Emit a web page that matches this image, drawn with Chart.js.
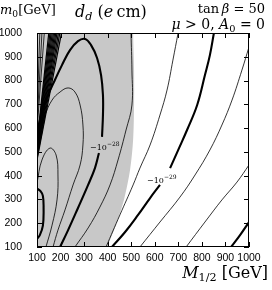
<!DOCTYPE html>
<html>
<head>
<meta charset="utf-8">
<script src="https://cdn.jsdelivr.net/npm/chart.js@4.4.0/dist/chart.umd.min.js"></script>
<style>
html, body { margin: 0; padding: 0; background: #fff; }
#wrap { position: relative; width: 272px; height: 290px; }
.t { position: absolute; font-family: "DejaVu Serif", serif; color: #000; white-space: nowrap; line-height: 1; }
.t sub { font-size: 70%; vertical-align: -0.3em; line-height: 0; }
</style>
</head>
<body>
<div id="wrap">
<canvas id="chart" width="272" height="290"></canvas>
<div class="t" style="left:0px;top:3px;font-size:13px;"><i>m</i><sub>0</sub>[GeV]</div>
<div class="t" style="left:75px;top:4px;font-size:16px;"><i>d</i><sub><i>d</i></sub> (<i>e</i>&#8201;cm)</div>
<div class="t" style="right:7px;top:2px;font-size:13px;">tan&#8201;<i>β</i> = 50</div>
<div class="t" style="right:7px;top:17px;font-size:14px;"><i>μ</i> &gt; 0, <i>A</i><sub>0</sub> = 0</div>
<div class="t" style="right:4px;top:265px;font-size:16px;"><i>M</i><sub>1/2</sub> [GeV]</div>
</div>
<script>
// axis range and tick labels (GeV)
var tickValues = [100, 200, 300, 400, 500, 600, 700, 800, 900, 1000];

// contours: [M_1/2, m_0]
var grayEdge = [[508, 1000], [512, 844], [512, 697], [508, 550], [495, 424], [469, 298], [435, 192], [401, 100]];

var tinyLoop = [[100, 345], [115, 335], [125, 315], [128, 264], [125, 190], [112, 150], [100, 135]];
var arch1 = [[100, 369], [121, 466], [155, 516], [181, 487], [189, 403], [185, 298], [164, 192], [138, 100]];
var ellipse2 = [[113, 592], [134, 655], [164, 718], [198, 752], [232, 769], [261, 752], [283, 697], [295, 613],
    [295, 529], [283, 445], [253, 361], [219, 256], [189, 171], [168, 100]];
var thick28Low = [[198, 100], [232, 171], [274, 264], [317, 361], [346, 432], [363, 495]];
var thick28Up = [[376, 563], [380, 655], [380, 739], [372, 823], [355, 895], [329, 950], [304, 975], [274, 966],
    [240, 928], [206, 865], [172, 794], [142, 727], [121, 668], [104, 600]];
var thin3 = [[499, 1000], [503, 844], [503, 697], [478, 592], [444, 466], [410, 361], [367, 268], [317, 180], [261, 100]];
var thin5 = [[699, 1000], [677, 886], [652, 760], [622, 655], [580, 529], [537, 432], [508, 361], [452, 235], [393, 100]];
var thick29Low = [[418, 100], [474, 163], [529, 235], [580, 306], [622, 361]];
var thick29Up = [[665, 432], [703, 516], [737, 592], [780, 697], [813, 823], [834, 907], [851, 1000]];
var thin6 = [[537, 100], [622, 205], [707, 310], [771, 403], [834, 508], [885, 613], [928, 718], [970, 844], [1000, 941]];
var thin7 = [[733, 100], [813, 205], [885, 298], [949, 373], [1000, 445]];
var thick8 = [[924, 100], [962, 150], [1000, 205]];

// the crowded lines near the sign change: m_0 where they leave the left axis, M_1/2 where they hit the top
var bundleStart = [650, 615, 590, 540, 532, 524, 516, 508, 500, 493, 486, 479, 472, 466];
var bundleTop = [112, 121, 131, 150, 155, 160, 165, 170, 175, 180, 185, 191, 197, 204];

// contour labels: [M_1/2, m_0, exponent]
var contourLabels = [[325, 506, "\u221228"], [567, 369, "\u221229"]];

function pts(arr) {
    return arr.map((a) => ({ x: a[0], y: a[1] }));
}

function contour(arr, thick) {
    return {
        data: pts(arr),
        showLine: true,
        borderColor: "#000",
        borderWidth: thick ? 2.1 : 0.8,
        tension: 0.4,
        pointRadius: 0,
        fill: false,
    };
}

var datasets = [];
[tinyLoop, thick28Low, thick28Up, thick29Low, thick29Up, thick8].forEach((c) => datasets.push(contour(c, true)));
[arch1, ellipse2, thin3, thin5, thin6, thin7].forEach((c) => datasets.push(contour(c, false)));
bundleStart.forEach((s, i) => {
    var d = contour([[100, s], [bundleTop[i], 1000]], false);
    d.tension = 0;
    d.borderWidth = i > 2 ? 1.2 : 0.8;
    datasets.push(d);
});

// shaded region, closed outside the frame so the clip does the edges
var grayPoly = [[508, 1100]].concat(grayEdge, [[390, 0], [0, 0], [0, 1100]]);
datasets.push({
    data: pts(grayPoly),
    showLine: true,
    borderWidth: 0,
    borderColor: "rgba(0,0,0,0)",
    backgroundColor: "#c8c8c8",
    fill: "shape",
    tension: 0.3,
    pointRadius: 0,
    order: 10,
});

var framePlugin = {
    id: "frame",
    afterDatasetsDraw(chart) {
        var ctx = chart.ctx;
        var a = chart.chartArea;
        var x = chart.scales.x;
        var y = chart.scales.y;
        ctx.save();

        // contour labels
        contourLabels.forEach((l) => {
            var px = x.getPixelForValue(l[0]);
            var py = y.getPixelForValue(l[1]);
            ctx.fillStyle = "#000";
            ctx.font = "8px 'DejaVu Serif'";
            ctx.textBaseline = "alphabetic";
            ctx.fillText("\u221210", px, py);
            var w = ctx.measureText("\u221210").width;
            ctx.font = "6px 'DejaVu Serif'";
            ctx.fillText(l[2], px + w, py - 4);
        });

        ctx.strokeStyle = "#000";
        ctx.lineWidth = 1;
        ctx.strokeRect(a.left + 0.5, a.top + 0.5, a.right - a.left - 1, a.bottom - a.top - 1);
        ctx.beginPath();
        tickValues.forEach((v) => {
            var px = Math.round(x.getPixelForValue(v)) + 0.5;
            ctx.moveTo(px, a.bottom);
            ctx.lineTo(px, a.bottom - 5);
            ctx.moveTo(px, a.top);
            ctx.lineTo(px, a.top + 5);
            var py = Math.round(y.getPixelForValue(v)) + 0.5;
            ctx.moveTo(a.left, py);
            ctx.lineTo(a.left + 5, py);
            ctx.moveTo(a.right, py);
            ctx.lineTo(a.right - 5, py);
        });
        ctx.stroke();
        ctx.restore();
    },
};

var tickFont = { family: "'Liberation Sans'", size: 10.5 };

new Chart(document.getElementById("chart").getContext("2d"), {
    type: "scatter",
    data: { datasets: datasets },
    options: {
        responsive: false,
        animation: false,
        layout: { padding: { top: 33, right: 23, bottom: 23, left: 0 } },
        plugins: { legend: { display: false }, tooltip: { enabled: false } },
        scales: {
            x: {
                type: "linear",
                min: 100,
                max: 1000,
                afterBuildTicks: (s) => { s.ticks = tickValues.map((v) => ({ value: v })); },
                afterFit: (s) => { s.height = 20; },
                grid: { display: false },
                border: { display: false },
                ticks: { font: tickFont, color: "#000", padding: -3, autoSkip: false, maxRotation: 0, callback: (v) => String(v) },
            },
            y: {
                type: "linear",
                min: 100,
                max: 1000,
                afterBuildTicks: (s) => { s.ticks = tickValues.map((v) => ({ value: v })); },
                afterFit: (s) => { s.width = 37; },
                grid: { display: false },
                border: { display: false },
                ticks: { font: tickFont, color: "#000", padding: 7, autoSkip: false, callback: (v) => String(v) },
            },
        },
    },
    plugins: [framePlugin],
});
</script>
</body>
</html>
